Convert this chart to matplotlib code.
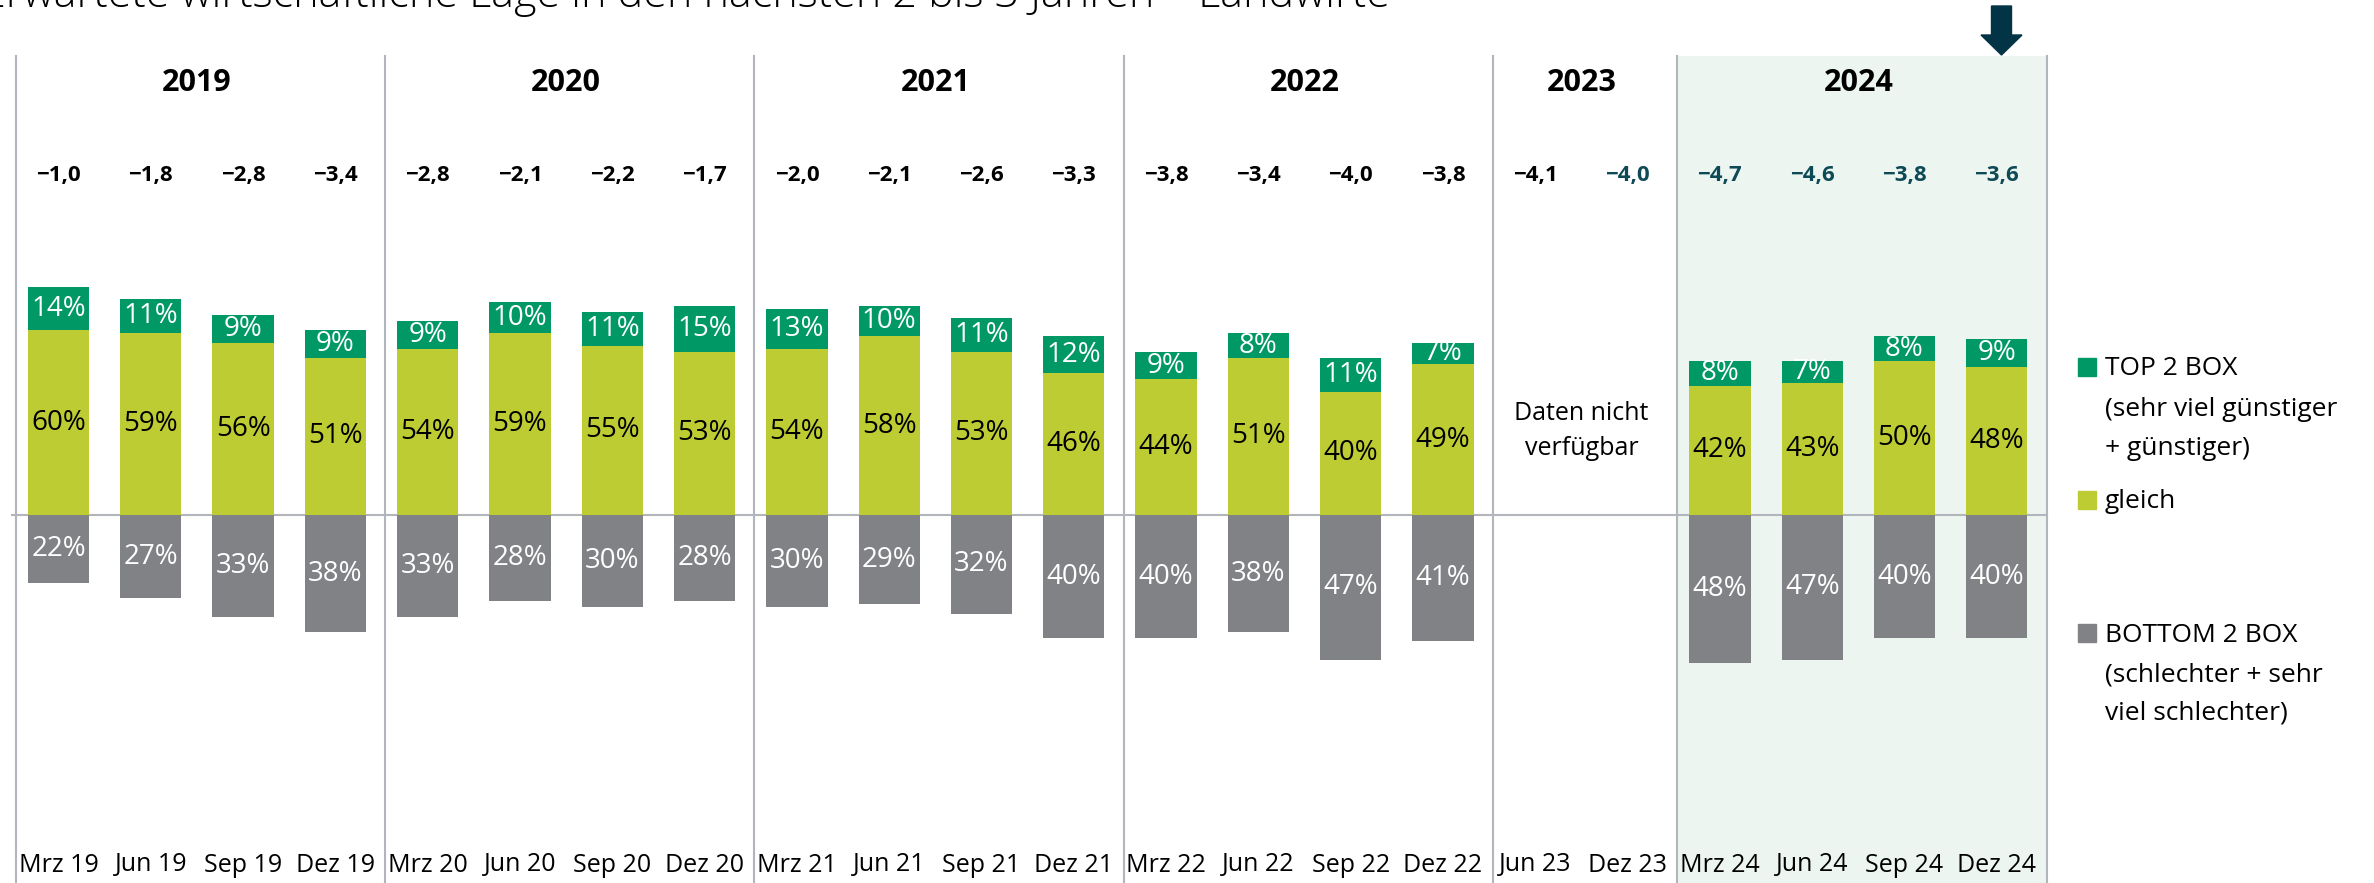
import numpy as np
import matplotlib
matplotlib.use("Agg")
from matplotlib import pyplot as plt
from matplotlib.patches import Rectangle, FancyArrow

plt.rcParams['font.family'] = ['Open Sans', 'DejaVu Sans']

# data
periods = ["Mrz 19", "Jun 19", "Sep 19", "Dez 19",
           "Mrz 20", "Jun 20", "Sep 20", "Dez 20",
           "Mrz 21", "Jun 21", "Sep 21", "Dez 21",
           "Mrz 22", "Jun 22", "Sep 22", "Dez 22",
           "Jun 23", "Dez 23",
           "Mrz 24", "Jun 24", "Sep 24", "Dez 24"]
top2 = [14, 11, 9, 9, 9, 10, 11, 15, 13, 10, 11, 12, 9, 8, 11, 7,
        np.nan, np.nan, 8, 7, 8, 9]
gleich = [60, 59, 56, 51, 54, 59, 55, 53, 54, 58, 53, 46, 44, 51, 40, 49,
          np.nan, np.nan, 42, 43, 50, 48]
bottom2 = [22, 27, 33, 38, 33, 28, 30, 28, 30, 29, 32, 40, 40, 38, 47, 41,
           np.nan, np.nan, 48, 47, 40, 40]
scores = [-1.0, -1.8, -2.8, -3.4, -2.8, -2.1, -2.2, -1.7, -2.0, -2.1, -2.6, -3.3,
          -3.8, -3.4, -4.0, -3.8, -4.1, -4.0, -4.7, -4.6, -3.8, -3.6]
years = ["2019", "2020", "2021", "2022", "2023", "2024"]
year_sizes = [4, 4, 4, 4, 2, 4]

title = "Erwartete wirtschaftliche Lage in den nächsten 2 bis 3 Jahren – Landwirte"

c_top = '#009966'
c_mid = '#BDCC32'
c_bot = '#808285'
c_line = '#B2B5BC'
c_shade = '#ECF5F0'
c_dark = '#033446'
c_teal = '#0E4A56'

W, H = 2374, 883
fig = plt.figure(figsize=(W / 100, H / 100), dpi=100)
ax = fig.add_axes([0, 0, 1, 1])
ax.axis('off')

# pixel layout -> data limits (slot width 92.3 px, 3.08 px per %)
slot = 92.3
x0 = 58.5
zero_px = 515
ypp = 3.08
ax.set_xlim(-x0 / slot, (W - x0) / slot)
ax.set_ylim(-(H - zero_px) / ypp, zero_px / ypp)
ymin = -(H - zero_px) / ypp
ytop = (zero_px - 56) / ypp

x = np.arange(len(periods))
top2 = np.array(top2, dtype=float)
gleich = np.array(gleich, dtype=float)
bottom2 = np.array(bottom2, dtype=float)

# group boundaries
edges = np.concatenate([[0], np.cumsum(year_sizes)])
off = (16 - x0) / slot + 0.5

# 2024 shading
ax.add_patch(Rectangle((edges[-2] - 0.5 + off, ymin), year_sizes[-1], ytop - ymin,
                       facecolor=c_shade, edgecolor='none', zorder=0))
for e in edges:
    ax.plot([e - 0.5 + off, e - 0.5 + off], [ymin, ytop], color=c_line, lw=1.5, zorder=1)
ax.plot([-0.504, edges[-1] - 0.5 + off], [0, 0], color=c_line, lw=1.5, zorder=1)

bw = 0.665
ax.bar(x, gleich, bw, color=c_mid, zorder=2)
ax.bar(x, top2, bw, bottom=gleich, color=c_top, zorder=2)
ax.bar(x, -bottom2, bw, color=c_bot, zorder=2)

for i in range(len(x)):
    if np.isnan(gleich[i]):
        continue
    ax.text(x[i], gleich[i] / 2, f"{gleich[i]:.0f}%", ha='center', va='center',
            fontsize=20, color='black', zorder=3)
    ax.text(x[i], gleich[i] + top2[i] / 2, f"{top2[i]:.0f}%", ha='center', va='center',
            fontsize=20, color='white', zorder=3)
    ax.text(x[i], -bottom2[i] / 2, f"{bottom2[i]:.0f}%", ha='center', va='center',
            fontsize=20, color='white', zorder=3)

# scores
for i, s in enumerate(scores):
    col = 'black' if i < 17 else c_teal
    ax.text(x[i], (zero_px - 175) / ypp, f"{s:.1f}".replace('.', ',').replace('-', '−'),
            ha='center', va='center', fontsize=16, fontweight='bold', color=col)

# year headers
for k, yr in enumerate(years):
    cx = (edges[k] + edges[k + 1] - 1) / 2
    ax.text(cx, (zero_px - 83) / ypp, yr, ha='center', va='center',
            fontsize=22, fontweight='bold', color='black')

# tick labels
for i, p in enumerate(periods):
    ax.text(x[i], (zero_px - 865) / ypp, p, ha='center', va='center', fontsize=18)

ax.text(16.5, (zero_px - 431) / ypp, "Daten nicht\nverfügbar", ha='center', va='center',
        fontsize=18, linespacing=1.5)

# arrow over latest wave
ax.add_patch(FancyArrow((2001.5 - x0) / slot, (zero_px - 6) / ypp, 0,
                        -(55 - 6) / ypp, width=20 / slot, head_width=41 / slot,
                        head_length=20 / ypp, length_includes_head=True,
                        color=c_dark, zorder=4))

# title (cut off at top, as in the source)
fig.text(1390 / W, 1 - 7 / H, title, ha='right', va='baseline', fontsize=31,
         fontweight='light', color='black')

# legend
def fx(px):
    return px / W

def fy(py):
    return 1 - py / H

for col, yb in [(c_top, 376), (c_mid, 509), (c_bot, 642)]:
    fig.patches.append(Rectangle((fx(2078), fy(yb)), 18 / W, 18 / H, color=col,
                                 transform=fig.transFigure, figure=fig))
leg_lines = [("TOP 2 BOX", 375), ("(sehr viel günstiger", 416), ("+ günstiger)", 455),
             ("gleich", 508),
             ("BOTTOM 2 BOX", 642), ("(schlechter + sehr", 682), ("viel schlechter)", 720)]
for t, yb in leg_lines:
    fig.text(fx(2105), fy(yb), t, ha='left', va='baseline', fontsize=19)

fig.savefig('out.png', dpi=100)
